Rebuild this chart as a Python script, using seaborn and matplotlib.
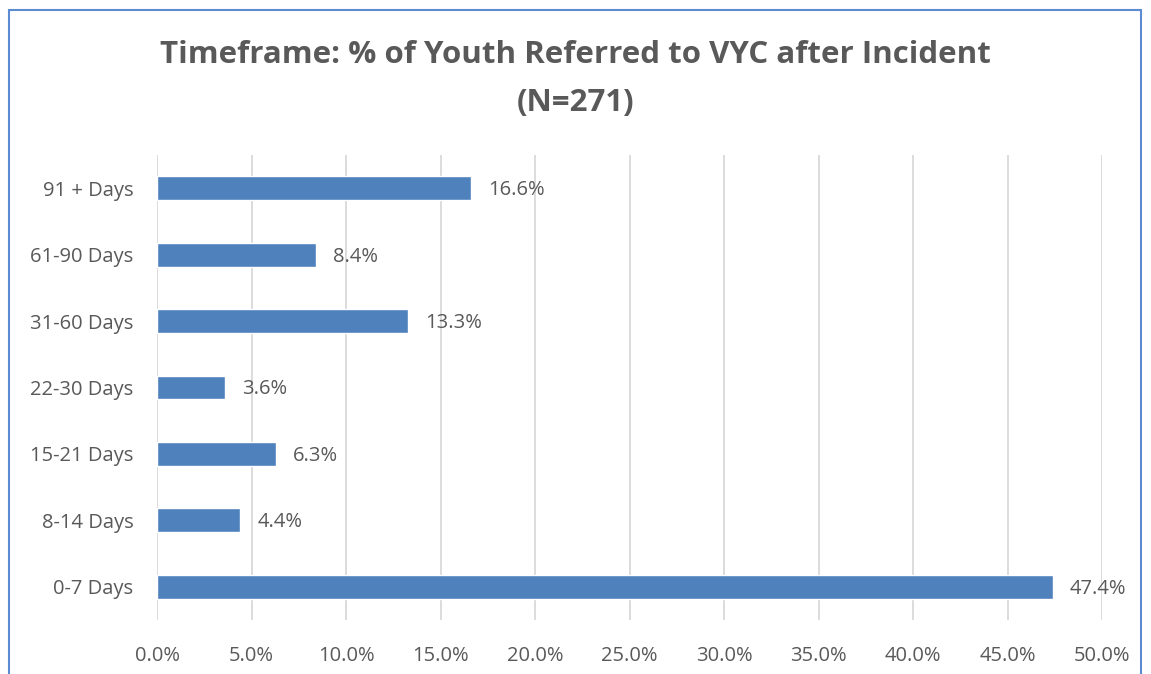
import matplotlib
matplotlib.use("Agg")
import matplotlib.pyplot as plt
import seaborn as sns
import pandas as pd
from matplotlib.patches import Rectangle
from matplotlib.ticker import FuncFormatter

categories = ["91 + Days", "61-90 Days", "31-60 Days", "22-30 Days",
              "15-21 Days", "8-14 Days", "0-7 Days"]
percent = [16.6, 8.4, 13.3, 3.6, 6.3, 4.4, 47.4]
x_ticks = [0, 5, 10, 15, 20, 25, 30, 35, 40, 45, 50]

df = pd.DataFrame({"category": categories, "percent": percent})

sns.set_theme(style="white")
plt.rcParams["font.family"] = ["Open Sans", "DejaVu Sans"]
text_color = "#595959"
bar_color = "#4F81BD"

fig = plt.figure(figsize=(11.51, 6.74), dpi=100)
ax = fig.add_axes([157 / 1151, 1 - 620 / 674, (1102 - 157) / 1151, (620 - 155) / 674])

sns.barplot(data=df, x="percent", y="category", order=categories,
            color=bar_color, width=0.36, saturation=1, ax=ax)

ax.set_xlim(0, 50)
ax.set_ylim(6.5, -0.5)
ax.set_xticks(x_ticks)
ax.xaxis.set_major_formatter(FuncFormatter(lambda v, _: f"{v:.1f}%"))
ax.grid(axis="x", color="#D9D9D9", linewidth=1.3)
ax.set_axisbelow(True)
for s in ax.spines.values():
    s.set_visible(False)
ax.set_xlabel("")
ax.set_ylabel("")
ax.tick_params(axis="both", length=0, labelsize=14.5, colors=text_color)
ax.tick_params(axis="y", pad=17)
ax.tick_params(axis="x", pad=19)

for i, v in enumerate(percent):
    ax.text(v + 0.9, i + 0.03, f"{v:.1f}%", va="center", ha="left",
            fontsize=14.5, color=text_color)

fig.text(0.5, 1 - 55 / 674, "Timeframe: % of Youth Referred to VYC after Incident",
         ha="center", va="center", fontsize=22.5, fontweight="bold", color=text_color)
fig.text(0.5, 1 - 103 / 674, "(N=271)",
         ha="center", va="center", fontsize=22.5, fontweight="bold", color=text_color)

fig.patches.append(Rectangle((9 / 1151, -0.05), (1141 - 9) / 1151, 1.05 - 10 / 674,
                             transform=fig.transFigure, fill=False,
                             edgecolor="#5B8BD0", linewidth=1.5))

fig.savefig("out.png", dpi=100)
